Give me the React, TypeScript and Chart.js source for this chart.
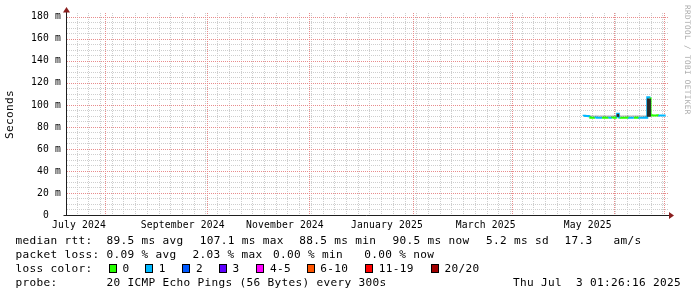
import React, { useEffect, useRef } from 'react';
import { Chart, registerables } from 'chart.js';

Chart.register(...registerables);

const FONT = "'DejaVu Sans Mono', monospace";

// ---- time axis: days counted from 2024-07-01 00:00 ----
const timeStartDay = 8.3;
const timeEndDay = 367.4;
const rttMinMs = 0;
const rttMaxMs = 183.6;

const monthLabels = ['July 2024', 'September 2024', 'November 2024', 'January 2025', 'March 2025', 'May 2025'];
const monthLabelDays = [15.5, 77.5, 138.5, 199.5, 258.5, 319.5];
const majorGridDays = [31, 92, 153, 215, 274, 335, 365];
const minorGridDays = [
  14, 21, 28, 35, 42, 49, 56, 63, 70, 77, 84, 91, 98, 105, 112, 119, 126, 133, 140, 147,
  154, 161, 168, 175, 182, 189, 196, 203, 210, 217, 224, 231, 238, 245, 252, 259, 266, 273,
  280, 287, 294, 301, 308, 315, 322, 329, 336, 343, 350, 357, 364,
];

// ---- rtt axis (milliseconds) ----
const rttTickValues = [0, 20, 40, 60, 80, 100, 120, 140, 160, 180];
const rttTickLabels = ['0  ', '20 m', '40 m', '60 m', '80 m', '100 m', '120 m', '140 m', '160 m', '180 m'];
const rttMinorValues = [
  5, 10, 15, 25, 30, 35, 45, 50, 55, 65, 70, 75, 85, 90, 95,
  105, 110, 115, 125, 130, 135, 145, 150, 155, 165, 170, 175,
];

// ---- median rtt per day (ms) and lost pings out of 20 ----
const sampleDays = [
  317, 318, 319, 320, 321, 322, 323, 324, 325, 326, 327, 328, 329, 330, 331, 332, 333, 334, 335, 336,
  337, 338, 339, 340, 341, 342, 343, 344, 345, 346, 347, 348, 349, 350, 351, 352, 353, 354, 355, 356,
  357, 358, 359, 360, 361, 362, 363, 364, 365, 366,
];
const medianRtt = [
  90.0, 90.1, 90.0, 89.9, 89.8, 88.5, 88.4, 88.5, 88.6, 88.5, 88.4, 88.5, 88.5, 88.6, 88.5, 88.4, 88.5, 88.5, 88.6, 88.5,
  88.7, 92.0, 88.6, 88.5, 88.4, 88.5, 88.5, 88.6, 88.5, 88.4, 88.5, 88.5, 88.6, 88.5, 88.4, 88.5, 88.5, 88.6, 88.5, 107.1,
  106.8, 90.6, 90.5, 90.4, 90.5, 90.6, 90.5, 90.5, 90.4, 90.5,
];
const lossCount = [
  1, 1, 1, 1, 1, 0, 0, 0, 1, 1, 1, 1, 0, 0, 0, 0, 1, 1, 0, 0,
  0, 1, 1, 0, 0, 0, 0, 0, 1, 1, 1, 0, 0, 0, 1, 1, 1, 1, 1, 1,
  1, 0, 0, 0, 0, 0, 1, 1, 1, 1,
];

// ---- smoke (spread of the individual pings, ms) ----
const smokeDays = [
  322, 323, 324, 325, 326, 327, 328, 329, 330, 331, 332, 333, 334, 335, 336, 337, 338, 339,
  340, 341, 342, 343, 344, 345, 346, 347, 348, 349, 350, 351, 352, 353, 354, 355, 356, 357,
];
const smokeLow = [
  89.4, 89.3, 89.4, 89.5, 89.4, 89.3, 89.4, 89.4, 89.5, 89.4, 89.3, 89.4, 89.4, 89.5, 89.4, 89.6, 89.5, 89.5,
  89.4, 89.3, 89.4, 89.4, 89.5, 89.4, 89.3, 89.4, 89.4, 89.5, 89.4, 89.3, 89.4, 89.4, 89.5, 89.4, 89.6, 89.6,
];
const smokeHigh = [
  90.6, 90.4, 90.5, 90.7, 90.5, 90.4, 90.6, 90.5, 90.7, 90.5, 90.4, 90.6, 90.5, 90.7, 90.5, 90.8, 91.6, 90.6,
  90.5, 90.4, 90.6, 90.5, 90.7, 90.5, 90.4, 90.6, 90.5, 90.7, 90.5, 90.4, 90.6, 90.5, 90.7, 90.5, 105.6, 105.4,
];

// ---- loss colour legend ----
const lossLegendLabels = ['0', '1', '2', '3', '4-5', '6-10', '11-19', '20/20'];
const lossLegendUpper = [0, 1, 2, 3, 5, 10, 19, 20];
const lossLegendColors = ['#26ff00', '#00b8ff', '#0059ff', '#5e00ff', '#ff00ff', '#ff5500', '#ff0000', '#a00000'];

const statsRows: { text: string; x: number }[][] = [
  [
    { text: 'median rtt:', x: 15.5 },
    { text: '89.5 ms avg', x: 106.6 },
    { text: '107.1 ms max', x: 199.8 },
    { text: '88.5 ms min', x: 299.3 },
    { text: '90.5 ms now', x: 392.6 },
    { text: '5.2 ms sd', x: 485.9 },
    { text: '17.3   am/s', x: 564.5 },
  ],
  [
    { text: 'packet loss:', x: 15.5 },
    { text: '0.09 % avg', x: 106.6 },
    { text: '2.03 % max', x: 192.6 },
    { text: '0.00 % min', x: 273.0 },
    { text: '0.00 % now', x: 364.3 },
  ],
  [{ text: 'loss color:', x: 15.5 }],
  [
    { text: 'probe:', x: 15.5 },
    { text: '20 ICMP Echo Pings (56 Bytes) every 300s', x: 106.6 },
    { text: 'Thu Jul  3 01:26:16 2025', x: 513.0 },
  ],
];
const rowBaselines = [244.7, 258.7, 273.0, 287.3];
const lossBoxX = [109, 145, 182, 219, 256, 307, 365, 431];
const lossLabelX = [122.6, 158.8, 195.9, 232.5, 269.9, 320.2, 378.8, 444.5];

function lossColor(n: number): string {
  for (let i = 0; i < lossLegendUpper.length; i++) {
    if (n <= lossLegendUpper[i]) return lossLegendColors[i];
  }
  return lossLegendColors[lossLegendColors.length - 1];
}

const MINOR_GRID = 'rgb(206,206,206)';
const MAJOR_GRID = 'rgb(232,140,140)';
const AXIS = '#1f1f1f';
const ARROW = '#8a1f1f';

const fixedTicks = (values: number[]) => (scale: any) => {
  scale.ticks = values.map((v) => ({ value: v }));
};

// dotted RRDtool-style grid, positioned through the chart's own scales
const gridPlugin = {
  id: 'rrdGrid',
  beforeDatasetsDraw(chart: any) {
    const { ctx, chartArea: a } = chart;
    const xs = chart.scales.x;
    const ys = chart.scales.y;
    const top = Math.round(a.top);
    const bottom = Math.round(a.bottom);
    const left = Math.round(a.left);
    const right = Math.round(a.right);
    const vlines = (values: number[], color: string) => {
      ctx.fillStyle = color;
      values.forEach((v) => {
        const px = Math.round(xs.getPixelForValue(v));
        if (px < left || px > right) return;
        for (let py = top; py < bottom; py += 2) ctx.fillRect(px, py, 1, 1);
      });
    };
    const hlines = (values: number[], color: string) => {
      ctx.fillStyle = color;
      values.forEach((v) => {
        const py = Math.round(ys.getPixelForValue(v));
        if (py < top || py >= bottom) return;
        for (let px = left; px <= right; px += 2) ctx.fillRect(px, py, 1, 1);
      });
    };
    ctx.save();
    vlines(minorGridDays, MINOR_GRID);
    hlines(rttMinorValues, MINOR_GRID);
    vlines(majorGridDays, MAJOR_GRID);
    hlines(rttTickValues, MAJOR_GRID);
    ctx.restore();
  },
};

const axesPlugin = {
  id: 'rrdAxes',
  beforeDraw(chart: any) {
    try {
      chart.ctx.letterSpacing = '0.16px';
    } catch (e) {
      /* ignore */
    }
  },
  afterDraw(chart: any) {
    const { ctx, chartArea: a } = chart;
    const y0 = Math.round(chart.scales.y.getPixelForValue(0)) + 0.5;
    const xl = Math.round(a.left) - 0.5;
    ctx.save();
    ctx.letterSpacing = '0px';
    ctx.strokeStyle = AXIS;
    ctx.lineWidth = 1;
    ctx.beginPath();
    ctx.moveTo(xl - 3, y0);
    ctx.lineTo(a.right + 1, y0);
    ctx.moveTo(xl, y0);
    ctx.lineTo(xl, a.top - 1);
    ctx.stroke();
    ctx.fillStyle = ARROW;
    ctx.beginPath();
    ctx.moveTo(a.right + 1, y0 - 3.5);
    ctx.lineTo(a.right + 6, y0);
    ctx.lineTo(a.right + 1, y0 + 3.5);
    ctx.closePath();
    ctx.fill();
    ctx.beginPath();
    ctx.moveTo(xl - 3.5, a.top - 0.5);
    ctx.lineTo(xl, a.top - 6);
    ctx.lineTo(xl + 3.5, a.top - 0.5);
    ctx.closePath();
    ctx.fill();
    ctx.restore();
  },
};

export default function App() {
  const canvasRef = useRef<HTMLCanvasElement | null>(null);

  useEffect(() => {
    const canvas = canvasRef.current;
    if (!canvas) return;
    const tickFont = { family: FONT, size: 9.7 };

    const medianData = sampleDays.map((d, i) => ({ x: d, y: medianRtt[i] }));
    const smokeData = smokeDays.map((d, i) => ({ x: d - 0.5, y: [smokeLow[i], smokeHigh[i]] }));
    const smokeColors = smokeDays.map((_, i) =>
      smokeHigh[i] - smokeLow[i] > 1.5 ? '#2b2b2b' : 'rgba(0,0,0,0.13)'
    );

    const chart = new Chart(canvas, {
      type: 'line',
      data: {
        datasets: [
          {
            type: 'bar',
            label: 'smoke',
            data: smokeData as any,
            backgroundColor: smokeColors,
            borderWidth: 0,
            barPercentage: 1,
            categoryPercentage: 1,
            xAxisID: 'x',
            yAxisID: 'y',
          } as any,
          {
            type: 'line',
            label: 'median rtt',
            data: medianData,
            stepped: 'after',
            borderWidth: 2,
            pointRadius: 0,
            fill: false,
            borderColor: lossColor(lossCount[0]),
            segment: {
              borderColor: (ctx: any) => lossColor(lossCount[ctx.p1DataIndex]),
            },
            xAxisID: 'x',
            yAxisID: 'y',
          } as any,
        ],
      },
      options: {
        animation: false,
        responsive: false,
        devicePixelRatio: 1,
        events: [],
        layout: { padding: { left: 0, right: 29, top: 13, bottom: 0 } },
        plugins: { legend: { display: false }, tooltip: { enabled: false }, title: { display: false } },
        scales: {
          y: {
            type: 'linear',
            position: 'left',
            min: rttMinMs,
            max: rttMaxMs,
            afterBuildTicks: fixedTicks(rttTickValues),
            afterFit: (s: any) => {
              s.width = 67;
            },
            ticks: {
              font: tickFont,
              color: '#000',
              padding: 6,
              callback: (_v: any, i: number) => rttTickLabels[i],
            },
            grid: { display: false, drawTicks: false },
            border: { display: false },
          },
          x: {
            type: 'linear',
            position: 'bottom',
            min: timeStartDay,
            max: timeEndDay,
            offset: false,
            afterBuildTicks: fixedTicks(monthLabelDays),
            afterFit: (s: any) => {
              s.height = 82;
            },
            ticks: {
              font: tickFont,
              color: '#000',
              padding: 5,
              autoSkip: false,
              maxRotation: 0,
              minRotation: 0,
              callback: (_v: any, i: number) => monthLabels[i],
            },
            grid: { display: false, drawTicks: false },
            border: { display: false },
          },
        } as any,
      },
      plugins: [gridPlugin, axesPlugin],
    });

    return () => chart.destroy();
  }, []);

  const textStyle = (x: number, baseline: number): React.CSSProperties => ({
    position: 'absolute',
    left: x,
    top: baseline - 10.84,
    font: `11.1px ${FONT}`,
    letterSpacing: '0.32px',
    lineHeight: '14px',
    whiteSpace: 'pre',
    color: '#000',
  });

  return (
    <div
      style={{
        position: 'fixed',
        left: 0,
        top: 0,
        width: 697,
        height: 297,
        background: '#fff',
        overflow: 'hidden',
      }}
    >
      <canvas
        ref={canvasRef}
        width={697}
        height={297}
        style={{ position: 'absolute', left: 0, top: 0, width: 697, height: 297 }}
      />
      <div
        style={{
          position: 'absolute',
          left: 3.2,
          top: 138.5,
          transform: 'rotate(-90deg)',
          transformOrigin: '0 0',
          font: `11.1px ${FONT}`,
          letterSpacing: '0.32px',
          lineHeight: '14px',
          whiteSpace: 'pre',
          color: '#000',
        }}
      >
        Seconds
      </div>
      <div
        style={{
          position: 'absolute',
          left: 692.1,
          top: 4.5,
          transform: 'rotate(90deg)',
          transformOrigin: '0 0',
          font: `7.64px ${FONT}`,
          letterSpacing: '0.4px',
          lineHeight: '10px',
          whiteSpace: 'pre',
          color: '#ababab',
        }}
      >
        RRDTOOL / TOBI OETIKER
      </div>
      {statsRows.map((row, r) =>
        row.map((item, k) => (
          <span key={`t${r}-${k}`} style={textStyle(item.x, rowBaselines[r])}>
            {item.text}
          </span>
        ))
      )}
      {lossLegendLabels.map((lab, i) => (
        <React.Fragment key={`l${i}`}>
          <span
            style={{
              position: 'absolute',
              left: lossBoxX[i],
              top: 264,
              width: 8,
              height: 9,
              boxSizing: 'border-box',
              border: '1px solid #000',
              background: lossLegendColors[i],
            }}
          />
          <span style={textStyle(lossLabelX[i], rowBaselines[2])}>{lab}</span>
        </React.Fragment>
      ))}
    </div>
  );
}
